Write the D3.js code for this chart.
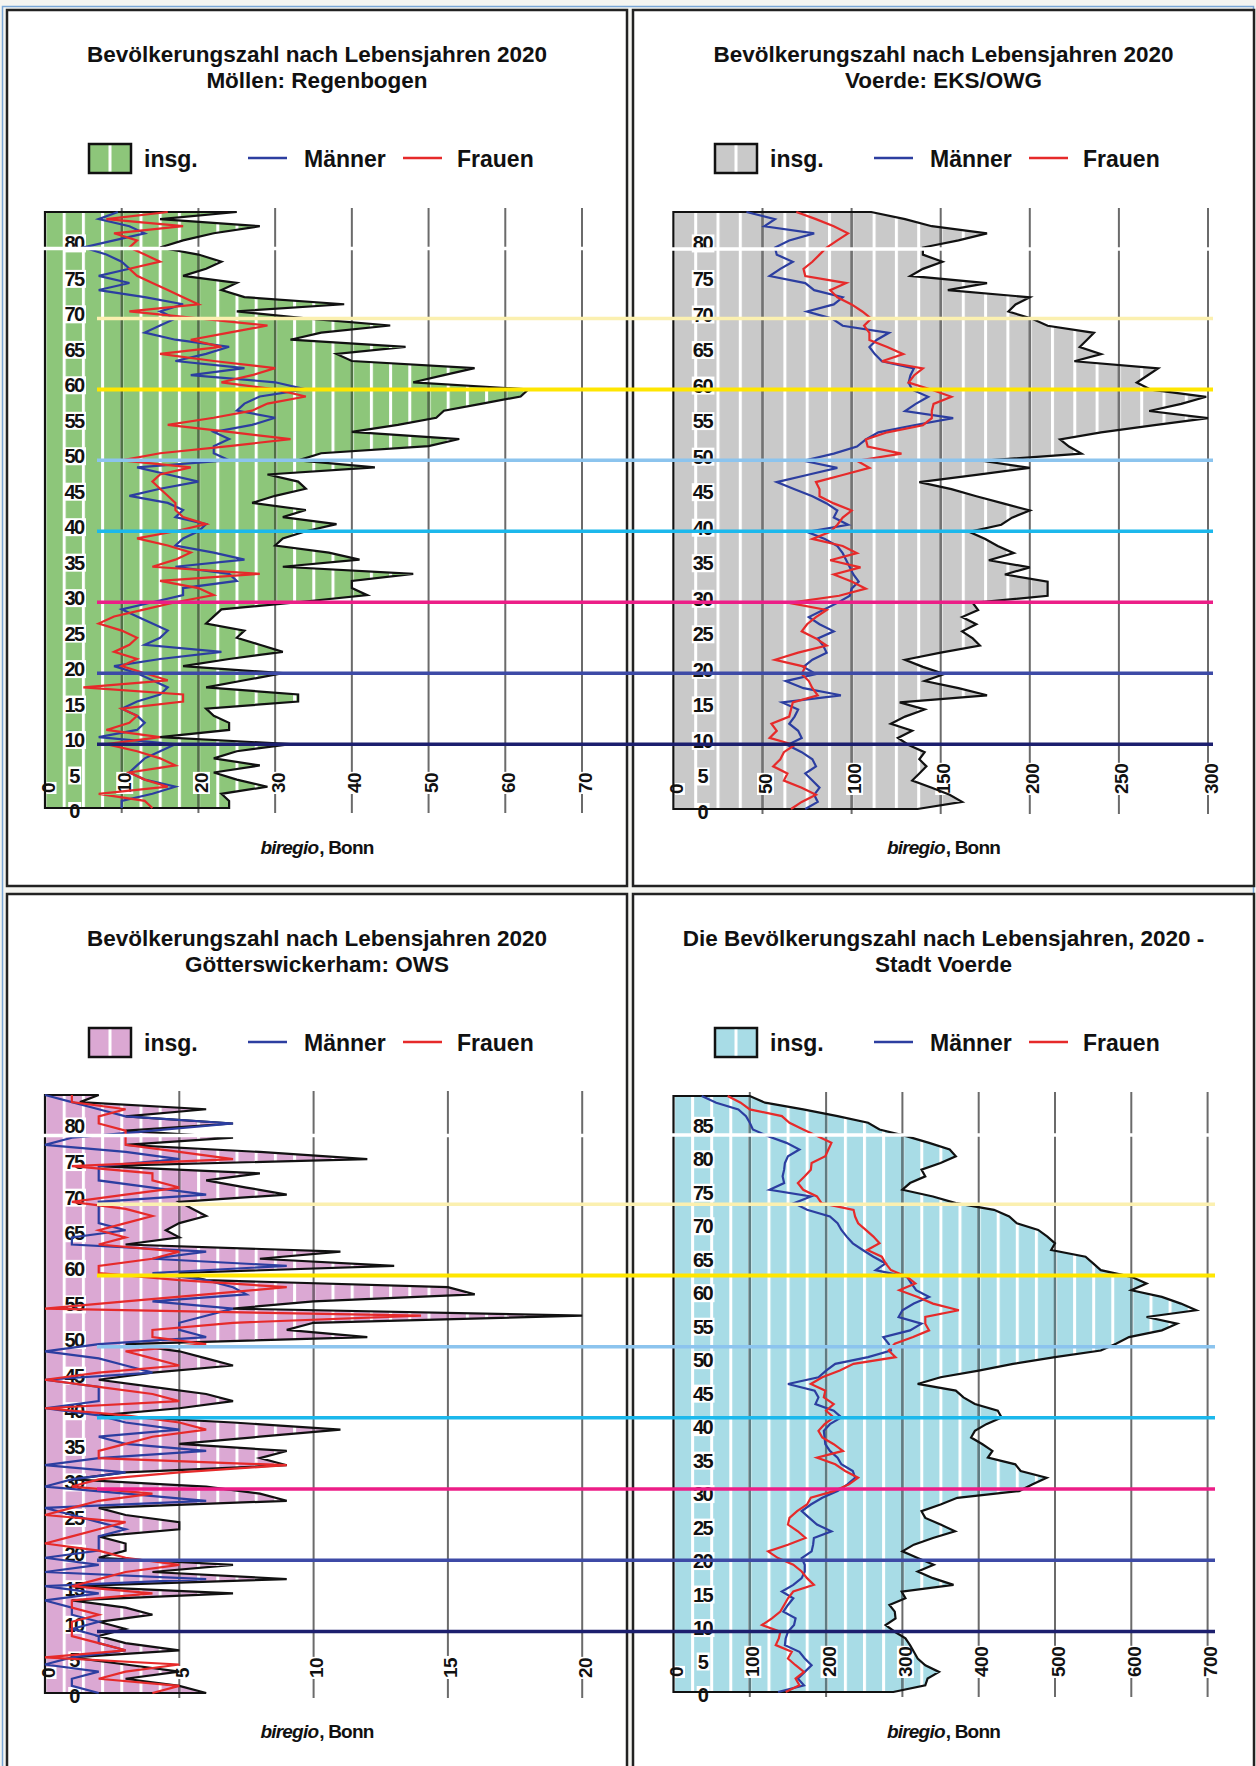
<!DOCTYPE html>
<html><head><meta charset="utf-8">
<script src="https://cdn.jsdelivr.net/npm/d3@7"></script>
<style>body{margin:0;background:#f4f4f0;} svg{display:block}</style>
</head><body>
<svg id="c" width="1256" height="1766"></svg>
<script>
// ---------- DATA (ages ascending from 0) ----------
const p1Title = ["Bevölkerungszahl nach Lebensjahren 2020", "Möllen: Regenbogen"];
const p2Title = ["Bevölkerungszahl nach Lebensjahren 2020", "Voerde: EKS/OWG"];
const p3Title = ["Bevölkerungszahl nach Lebensjahren 2020", "Götterswickerham: OWS"];
const p4Title = ["Die Bevölkerungszahl nach Lebensjahren, 2020 -", "Stadt Voerde"];
const legendLabels = ["insg.", "Männer", "Frauen"];
const sourceLabel = ["biregio", ", Bonn"];

const ageTicksA = [0,5,10,15,20,25,30,35,40,45,50,55,60,65,70,75,80];
const ageTicksB = [0,5,10,15,20,25,30,35,40,45,50,55,60,65,70,75,80,85];
const p1Ticks = [0,10,20,30,40,50,60,70];
const p2Ticks = [0,50,100,150,200,250,300];
const p3Ticks = [0,5,10,15,20];
const p4Ticks = [0,100,200,300,400,500,600,700];
const markerAges = [10,20,30,40,50,60,70];

const p1Total = [24,24,23,29,25,22,28,22,25,32,15,24,24,22,21,33,33,21,26,31,18,24,31,28,25,26,21,22,23,33,42,40,40,48,31,41,37,30,31,34,38,31,34,27,30,34,33,29,43,33,36,50,54,40,46,51,52,57,62,63,48,52,56,40,38,47,32,36,45,34,25,39,26,23,25,18,21,23,20,15,18,22,28,15,25];
const p1Men   = [10,10,14,17,13,11,12,13,15,17,7,12,13,12,10,12,15,16,14,12,9,15,23,13,15,16,14,12,10,14,18,18,25,24,17,26,22,17,18,20,21,17,18,16,11,15,20,16,12,24,22,22,24,22,27,30,25,26,28,34,30,19,26,17,21,24,17,13,15,17,15,18,13,7,11,7,11,10,8,5,9,13,11,7,9.5];
const p1Women = [14,13,7,16,13,11,17,15,12,8,15,8,11,12,10,18,18,5,16,13,10,12,9,11,12,10,7,9,13,17,22,20,15,28,14,17,19,16,12,17,21,18,17,17,16,15,14,15,19,10,15,24,32,24,16,22,27,29,34,30,23,27,30,22,15,23,19,24,29,20,11,20,18,16,14,12,11,15,13,11,12,9,18,8,16];

const p2Total = [137,162,155,145,134,138,142,138,141,132,126,134,122,130,141,127,176,160,141,152,140,130,150,172,168,162,170,162,171,168,210,210,210,186,200,177,191,182,175,166,184,190,200,185,170,156,138,170,200,173,229,222,217,240,270,300,267,285,299,268,260,266,272,225,240,228,232,236,210,201,188,192,200,154,176,133,140,151,140,140,160,176,145,130,111];
const p2Men   = [74,81,79,82,78,74,80,78,72,64,72,70,65,68,70,61,94,73,63,80,73,78,86,84,81,90,82,76,84,92,99,100,104,101,99,97,95,92,85,75,98,90,92,86,78,68,58,75,92,73,90,103,108,115,135,157,130,136,143,134,132,133,135,117,113,110,114,121,95,89,75,90,95,79,74,54,60,67,58,57,65,79,51,57,41];
const p2Women = [66,72,80,72,62,64,56,60,62,68,54,58,55,65,66,67,81,78,76,72,74,57,70,86,80,72,75,80,86,65,93,108,100,90,105,88,103,95,78,88,92,95,100,90,82,82,80,95,110,103,128,109,108,120,140,145,145,146,156,145,132,135,140,117,129,120,110,110,107,111,106,100,92,88,97,74,73,78,82,86,92,98,90,80,69];

const p3Total = [6,5,3,5,3,1,5,3,2,3,2,4,3,1,7,1,9,4,7,2,3,3,2,5,5,3,2,9,8,6,1,3,9,8,9,5,8,11,7,2,5,7,6,4,2,4,7,6,5,3,12,9,10,20,7,10,16,15,6,5,13,8,11,3,5,4.5,5,6,5.5,5,9,7.5,6,8,2,12,8,3,7,3,7,3,6,1.3,2];
const p3Men   = [2,1,1,2,0,1,3,2,2,1,2,1,1,0,2,0,6,0,2,0,2,2,2,3,2,1,0,6,3,0,1,3,0,2,6,3,2,5,3,2,0,2,2,2,0,4,3,2,0,2,6,5,5,6,7,4,7.5,7,6,4,9,4,6,1,1,3,2,2,2,2,6,4,2,2,2,5,3,0,1,4,7,3,2,1,0];
const p3Women = [4,5,2,3,5,0,3,2,1,1,1,2,1,1,4,1,2,3,5,3,2,0,1,2,3,0,1,2,4,1,2,5,9,2,2,3,4,6,5,3,0,5,4,2,0,2,5,4,3,6,4,4,7,14,0,3,6,9,5,2,2,4,5,2,3,2,3,4,3,1,3,5,4,4,1,7,5,3,3,3,2,2,3,1,1];

const p4Total = [288,330,333,348,330,320,315,310,304,290,278,291,290,283,304,299,367,340,320,341,320,300,315,340,369,350,330,325,350,372,453,470,489,455,448,412,418,405,390,395,410,430,425,395,380,370,320,350,400,445,500,560,580,597,640,660,620,685,665,640,600,620,600,560,550,540,495,500,490,478,450,440,420,370,340,300,310,330,325,350,370,362,335,305,270,255,215,170,120,100];
const p4Men   = [137,171,163,172,181,172,165,146,147,150,158,160,144,150,157,142,157,168,172,172,168,181,183,184,207,188,178,168,180,195,215,228,238,235,220,215,205,199,198,197,205,220,210,186,190,185,150,190,200,212,255,285,282,275,310,325,295,300,315,335,318,312,306,265,278,262,248,235,227,220,215,205,175,158,180,126,145,143,145,146,150,165,148,124,104,100,95,85,56,37];
const p4Women = [147,165,160,171,160,150,155,134,138,140,116,129,140,145,150,157,184,175,168,157,137,124,150,173,163,150,152,162,175,180,210,230,242,225,212,188,222,210,195,190,198,210,200,210,197,199,180,195,218,236,291,282,290,314,335,330,330,374,340,320,296,317,306,285,278,273,254,270,262,252,242,238,236,194,188,170,163,172,180,181,199,203,207,189,170,152,142,100,88,71];

// ---------- STYLE / LAYOUT ----------
const FONT = "'Liberation Sans', Arial, Helvetica, sans-serif";
const MEN = "#2c3ea0", WOMEN = "#e62a2a", INK = "#111";
const markerColors = ["#1c1f6e","#3d4aa6","#ec1e87","#1cb8ec","#8cc4ee","#ffe600","#fbf0b0"];
const markerWidths = [3.5,3.5,3.5,3.5,3.5,4,3.5];

const panels = [
  {x:7, y:10, w:620, h:876, title:p1Title, fill:"#8dc67a", total:p1Total, men:p1Men, women:p1Women,
   ticks:p1Ticks, ageTicks:ageTicksA, vmax:70, left:45, right:582, bottom:808, top:212, maxAge:84, stripe:19.2, gap:248.5},
  {x:633, y:10, w:621, h:876, title:p2Title, fill:"#c9c9c9", total:p2Total, men:p2Men, women:p2Women,
   ticks:p2Ticks, ageTicks:ageTicksA, vmax:300, left:673.4, right:1208, bottom:809, top:212, maxAge:84, stripe:22.3, gap:249},
  {x:7, y:894, w:620, h:874, title:p3Title, fill:"#dba8d3", total:p3Total, men:p3Men, women:p3Women,
   ticks:p3Ticks, ageTicks:ageTicksA, vmax:20, left:45, right:582.2, bottom:1693, top:1095, maxAge:84, stripe:19.2, gap:1135.5},
  {x:633, y:894, w:621, h:874, title:p4Title, fill:"#a8dce6", total:p4Total, men:p4Men, women:p4Women,
   ticks:p4Ticks, ageTicks:ageTicksB, vmax:700, left:673.5, right:1207.6, bottom:1692, top:1096, maxAge:89, stripe:19.1, gap:1135}
];

const svg = d3.select("#c");
const defs = svg.append("defs");
svg.append("rect").attr("x",2.5).attr("y",6.5).attr("width",1251).attr("height",1762)
  .attr("fill","none").attr("stroke","#7aa6d6").attr("stroke-width",1.5);

const yScales = [];

panels.forEach((p, i) => {
  const g = svg.append("g");
  g.append("rect").attr("x",p.x).attr("y",p.y).attr("width",p.w).attr("height",p.h)
    .attr("fill","#fff").attr("stroke","#222").attr("stroke-width",2.5);
  const cx = p.x + p.w/2;
  p.title.forEach((t, k) => {
    g.append("text").attr("x",cx).attr("y",p.y + 52 + k*25.5).attr("text-anchor","middle")
      .attr("font-family",FONT).attr("font-weight","bold").attr("font-size",22.5).attr("fill",INK).text(t);
  });
  // legend
  const lx = p.x, ly = p.y;
  g.append("rect").attr("x",lx+82).attr("y",ly+134).attr("width",42).attr("height",29)
    .attr("fill",p.fill).attr("stroke",INK).attr("stroke-width",2.5);
  g.append("line").attr("x1",lx+103).attr("x2",lx+103).attr("y1",ly+135.5).attr("y2",ly+161.5)
    .attr("stroke","#fff").attr("stroke-width",3);
  g.append("line").attr("x1",lx+241).attr("x2",lx+280).attr("y1",ly+148).attr("y2",ly+148).attr("stroke",MEN).attr("stroke-width",2.5);
  g.append("line").attr("x1",lx+396).attr("x2",lx+435).attr("y1",ly+148).attr("y2",ly+148).attr("stroke",WOMEN).attr("stroke-width",2.5);
  [[137,legendLabels[0]],[297,legendLabels[1]],[450,legendLabels[2]]].forEach(([dx,t]) => {
    g.append("text").attr("x",lx+dx).attr("y",ly+157).attr("font-family",FONT).attr("font-weight","bold")
      .attr("font-size",23).attr("fill",INK).text(t);
  });
  // source (two adjacent text pieces)
  const s1 = g.append("text").attr("y",p.y+843.5).attr("font-family",FONT).attr("font-weight","bold")
    .attr("font-style","italic").attr("font-size",19).attr("letter-spacing",-0.8).attr("fill",INK).text(sourceLabel[0]);
  const s2 = g.append("text").attr("y",p.y+843.5).attr("font-family",FONT).attr("font-weight","bold")
    .attr("font-size",19).attr("letter-spacing",-0.8).attr("fill",INK).text(sourceLabel[1]);
  const w1 = s1.node().getComputedTextLength(), w2 = s2.node().getComputedTextLength();
  const sx = cx - (w1 + w2 + 1)/2;
  s1.attr("x",sx); s2.attr("x",sx + w1 + 1);

  // scales
  const x = d3.scaleLinear().domain([0,p.vmax]).range([p.left,p.right]);
  const y = d3.scaleLinear().domain([0,p.maxAge]).range([p.bottom,p.top]);
  yScales.push(y);
  const ages = d3.range(p.maxAge+1);
  const tot = ages.map(a => ({a, v:p.total[a]}));
  const men = ages.map(a => ({a, v:p.men[a]}));
  const wom = ages.map(a => ({a, v:p.women[a]}));

  // stripe pattern
  const pat = defs.append("pattern").attr("id","pat"+i).attr("patternUnits","userSpaceOnUse")
    .attr("x",p.left-1.5).attr("y",0).attr("width",p.stripe).attr("height",20);
  pat.append("rect").attr("width",p.stripe).attr("height",20).attr("fill",p.fill);
  pat.append("rect").attr("width",3).attr("height",20).attr("fill","#fff");

  const area = d3.area().x0(x(0)).x1(d => x(d.v)).y(d => y(d.a)).curve(d3.curveLinear);
  const areaD = area(tot);
  g.append("path").attr("d",areaD).attr("fill","url(#pat"+i+")");
  defs.append("clipPath").attr("id","clip"+i).append("path").attr("d",areaD);

  // gridlines
  const gv = p.ticks.filter(v => v > 0);
  g.append("g").selectAll("line").data(gv).join("line")
    .attr("x1",d=>x(d)).attr("x2",d=>x(d)).attr("y1",p.top-4).attr("y2",p.bottom+5)
    .attr("stroke","#6b6b6b").attr("stroke-width",2);
  g.append("g").attr("clip-path","url(#clip"+i+")").selectAll("line").data(gv).join("line")
    .attr("x1",d=>x(d)).attr("x2",d=>x(d)).attr("y1",p.top-4).attr("y2",p.bottom+5)
    .attr("stroke",d3.color(p.fill).darker(1.6)).attr("stroke-width",2.5);

  // age labels
  p.ageTicks.forEach(k => {
    const lg = g.append("g");
    const r = lg.append("rect").attr("fill","#fff");
    const t = lg.append("text").attr("x",p.left+29).attr("y",y(k)+3).attr("text-anchor","middle")
      .attr("dominant-baseline","central").attr("font-family",FONT).attr("font-weight","bold")
      .attr("font-size",20).attr("letter-spacing",-1.5).attr("fill",INK).text(k);
    const b = t.node().getBBox();
    r.attr("x",b.x-1).attr("y",b.y+2).attr("width",b.width+2).attr("height",b.height-4);
  });
  // value tick labels (rotated)
  p.ticks.forEach(v => {
    const lg = g.append("g").attr("transform",`translate(${x(v)+3},${p.bottom-15}) rotate(-90)`);
    const r = lg.append("rect").attr("fill","#fff");
    const t = lg.append("text").attr("x",0).attr("y",0).attr("text-anchor","start")
      .attr("dominant-baseline","central").attr("font-family",FONT).attr("font-weight","bold")
      .attr("font-size",19).attr("letter-spacing",-0.5).attr("fill",INK).text(v);
    const b = t.node().getBBox();
    r.attr("x",b.x-1).attr("y",b.y+2).attr("width",b.width+2).attr("height",b.height-4);
  });

  // series
  const line = d3.line().x(d => x(d.v)).y(d => y(d.a));
  g.append("path").attr("d",areaD).attr("fill","none").attr("stroke",INK).attr("stroke-width",2.2).attr("stroke-linejoin","miter");
  g.append("path").attr("d",line(men)).attr("fill","none").attr("stroke",MEN).attr("stroke-width",2.2);
  g.append("path").attr("d",line(wom)).attr("fill","none").attr("stroke",WOMEN).attr("stroke-width",2.2);

  // scan gap
  g.append("line").attr("x1",p.left-2).attr("x2",p.x+p.w-3).attr("y1",p.gap).attr("y2",p.gap)
    .attr("stroke","#fff").attr("stroke-width",3.5);
});

// marker lines across each row
const rows = [{y:yScales[0], off:1, x1:97, x2:1213}, {y:yScales[2], off:1.35, x1:97, x2:1215}];
rows.forEach(r => {
  svg.append("g").selectAll("line").data(markerAges).join("line")
    .attr("x1",r.x1).attr("x2",r.x2)
    .attr("y1",d => r.y(d - r.off)).attr("y2",d => r.y(d - r.off))
    .attr("stroke",(d,i) => markerColors[i]).attr("stroke-width",(d,i) => markerWidths[i]);
});
</script>
</body></html>
